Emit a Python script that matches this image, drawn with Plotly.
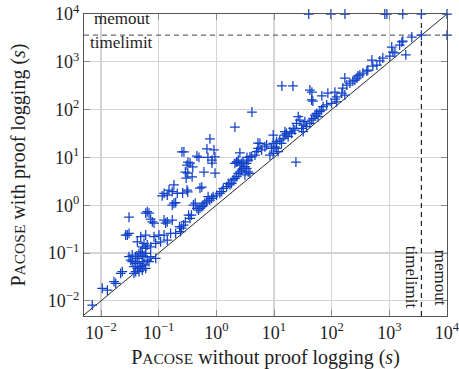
import math
import plotly.graph_objects as go

TIMELIMIT = 3600
MEMOUT = 10000
X_MIN = 0.00507
Y_MIN = 0.00481
AX_MAX = 10000

tick_vals = [0.01, 0.1, 1, 10, 100, 1000, 10000]
tick_text = ["10<sup>−2</sup>", "10<sup>−1</sup>", "10<sup>0</sup>", "10<sup>1</sup>",
             "10<sup>2</sup>", "10<sup>3</sup>", "10<sup>4</sup>"]

# runtime without proof logging (s)
without_log = [
    40, 97, 170, 835, 905, 1710, 3600, 10000, 10000, 3600,
    2450, 1710, 1650, 1510, 1930, 1100, 1150, 1250, 1020, 498, 771, 684, 607, 518, 424, 407, 347, 308,
    285, 274, 253, 233, 207, 169, 183, 156, 150, 169,
    13.7, 21.3, 41.9, 45.4, 47.2, 67.6, 85.9, 24, 123, 114, 114,
    4.14, 2.10, 0.774, 0.687, 0.909, 0.253, 0.274, 0.461, 0.499, 0.715, 0.839, 0.946, 0.322, 2.56,
    2.28, 3.39, 3.82, 5.26,
    0.84, 0.95, 0.61, 0.35, 0.31, 0.39, 0.32, 0.29, 0.31, 0.32, 0.56, 0.52, 0.26, 0.30, 0.38,
    7.45, 6.95, 5.7, 5.3, 6.1, 5.0, 4.67, 4.1, 3.57, 3.35, 3.13, 2.92, 2.74, 2.56, 2.4, 2.25, 2.1,
    1.96, 1.84, 1.72, 1.61, 2.1, 2.25, 2.4, 2.56, 2.74, 2.92, 3.35, 3.57, 3.82, 3.13, 1.51, 1.32,
    1.24, 1.15, 1.01, 0.88, 0.83, 0.77, 0.72, 0.68, 0.63, 0.59, 0.56, 0.52, 0.49, 0.46, 0.43, 0.40,
    0.37, 0.35, 0.33, 0.29, 0.27, 0.25, 0.23,
    44.9, 71, 82, 99.6, 122, 26.3, 28.1, 24.6, 32.1, 34.3, 36.7, 41.9, 44.9, 47.8, 51.2, 54.7, 58.3,
    62.4, 66.8, 21.5, 18.9, 16.5, 15.5, 17.6, 14.4, 12.6, 13.5, 11.1, 9.7, 10.4, 9.1, 11.1, 11.8,
    9.7, 8.5, 20.2, 23.0, 30.1, 32.1, 9.7, 15.5,
    0.184, 0.151, 0.172, 0.21, 0.124, 0.115, 0.141, 0.184, 0.172, 0.197, 0.0634, 0.068, 0.0595,
    0.0775, 0.083, 0.0727, 0.0306, 0.124, 0.141, 0.172, 0.132,
    0.0286, 0.0306, 0.0268, 0.0488, 0.0595, 0.0556, 0.052, 0.0634, 0.0887, 0.083, 0.101, 0.124,
    0.161, 0.197, 0.24, 0.108, 0.0727, 0.141, 0.0426, 0.0348, 0.0399, 0.0426, 0.0456, 0.0488,
    0.052, 0.0556, 0.0595, 0.0634, 0.052, 0.0456, 0.0399, 0.0373, 0.0426, 0.0488, 0.0556, 0.0348,
    0.0327, 0.0595, 0.052, 0.0456, 0.0399, 0.0373, 0.068, 0.0727, 0.0595, 0.0887, 0.0306, 0.0219,
    0.0234, 0.0168, 0.018, 0.0105, 0.0129, 0.00706,
]

# runtime with proof logging (s)
with_log = [
    10000, 10000, 10000, 10000, 10000, 10000, 10000, 10000, 3600, 3600,
    3300, 2720, 2600, 2240, 1390, 2040, 1600, 1530, 1320, 1090, 1200, 1040, 857, 817, 673, 642, 583, 530,
    505, 458, 416, 396, 360, 458, 327, 283, 222, 202,
    312, 312, 257, 233, 151, 193, 222, 8.0, 184, 233, 165,
    89, 43, 24.3, 15, 14.3, 13, 13, 10.7, 10, 10, 8.8, 10.2, 8.0, 12.4,
    8.0, 10, 10.2, 20,
    7.6, 4.7, 4.95, 7.6, 6.9, 6.3, 4.7, 4.95, 2.08, 1.89, 2.4, 2.29, 1.8, 3.7, 3.9,
    18.2, 16.7, 19.7, 15.5, 14.3, 13.2, 11.2, 10.3, 8.8, 7.5, 6.4, 5.9, 5.45, 5.0, 4.65, 3.95, 3.65,
    3.37, 2.87, 2.65, 2.87, 7.5, 8.1, 8.8, 6.9, 7.5, 8.1, 5.9, 5.0, 4.65, 4.3, 2.44, 2.26,
    1.92, 1.77, 1.63, 1.51, 1.39, 1.28, 1.51, 1.18, 1.10, 1.01, 0.93, 0.86, 0.79, 0.86, 1.10, 1.01,
    0.62, 0.53, 0.62, 0.45, 0.385, 0.33, 0.355,
    159, 115, 125, 135, 146, 71, 60.6, 51.7, 47.6, 55.8, 43.9, 51.7, 60.6, 65.8, 77.1, 83.7, 71,
    90.4, 98, 40.6, 34.5, 31.9, 29.4, 27.1, 25.1, 23.1, 19.7, 21.3, 19.7, 16.7, 15.5, 15.5, 13.2,
    12.2, 11.2, 31.9, 37.4, 40.6, 34.5, 29.4, 34.5,
    2.65, 2.08, 1.92, 1.77, 1.77, 1.56, 1.63, 1.10, 1.01, 1.13, 0.73, 0.68, 0.68,
    0.45, 0.42, 0.51, 0.56, 0.49, 0.45, 0.49, 0.42,
    0.238, 0.258, 0.238, 0.219, 0.238, 0.16, 0.135, 0.147, 0.16, 0.219, 0.238, 0.238,
    0.258, 0.258, 0.279, 0.172, 0.135, 0.187, 0.172, 0.0908, 0.0837, 0.0775, 0.0986, 0.106,
    0.0908, 0.0837, 0.0986, 0.0714, 0.0658, 0.061, 0.061, 0.0516, 0.0479, 0.0516, 0.0561, 0.0658,
    0.0714, 0.0479, 0.0441, 0.0406, 0.0406, 0.0376, 0.0658, 0.0837, 0.125, 0.0775, 0.0837, 0.0376,
    0.0406, 0.0251, 0.0232, 0.0183, 0.0168, 0.00817,
]

SERIF = "Liberation Serif"
BLUE = "#1242c8"
TXT = "#1e1e1e"

fig = go.Figure()

# diagonal y = x
fig.add_trace(go.Scatter(x=[X_MIN, AX_MAX], y=[X_MIN, AX_MAX], mode="lines",
                         line=dict(color="#2a2a2a", width=1), hoverinfo="skip", showlegend=False))
# timelimit (horizontal)
fig.add_trace(go.Scatter(x=[X_MIN, AX_MAX], y=[TIMELIMIT, TIMELIMIT], mode="lines",
                         line=dict(color="#6a6a6a", width=1.2, dash="5px,4px"),
                         hoverinfo="skip", showlegend=False))
# timelimit (vertical)
fig.add_trace(go.Scatter(x=[TIMELIMIT, TIMELIMIT], y=[Y_MIN, AX_MAX], mode="lines",
                         line=dict(color="#222222", width=1.2, dash="5px,4px"),
                         hoverinfo="skip", showlegend=False))
# runtimes
fig.add_trace(go.Scatter(x=without_log, y=with_log, mode="markers", cliponaxis=False,
                         marker=dict(symbol="cross-thin", size=7,
                                     line=dict(width=1.25, color=BLUE), color=BLUE),
                         showlegend=False))

axis_common = dict(
    type="log", tickvals=tick_vals, ticktext=tick_text,
    showgrid=True, gridcolor="#d4d4d4", gridwidth=1.3,
    showline=True, linecolor="#555555", linewidth=1.2, mirror="allticks",
    ticks="inside", ticklen=6, tickcolor="#8c8c8c", tickwidth=1,
    zeroline=False, automargin=False, ticklabeloverflow="allow",
    tickfont=dict(family=SERIF, size=18, color=TXT),
)

fig.update_layout(
    template="none",
    width=459, height=369,
    margin=dict(l=84, r=12, t=14, b=53),
    paper_bgcolor="white", plot_bgcolor="white",
    showlegend=False,
    xaxis=dict(axis_common, range=[math.log10(X_MIN), math.log10(AX_MAX)],
               title=dict(text="P<span style='font-size:15.5px'>ACOSE</span> without proof logging (<i>s</i>)",
                          font=dict(family=SERIF, size=20, color=TXT), standoff=10)),
    yaxis=dict(axis_common, range=[math.log10(Y_MIN), math.log10(AX_MAX)],
               title=dict(text="P<span style='font-size:15.5px'>ACOSE</span> with proof logging (<i>s</i>)",
                          font=dict(family=SERIF, size=20, color=TXT), standoff=16)),
    annotations=[
        dict(text="memout", xref="paper", yref="paper", x=0.022, y=0.985, xanchor="left",
             yanchor="middle", showarrow=False, font=dict(family=SERIF, size=17, color=TXT)),
        dict(text="timelimit", xref="paper", yref="paper", x=0.011, y=0.904, xanchor="left",
             yanchor="middle", showarrow=False, font=dict(family=SERIF, size=17, color=TXT)),
        dict(text="timelimit", xref="paper", yref="paper", x=0.903, y=0.127, xanchor="center",
             yanchor="middle", textangle=90, showarrow=False,
             font=dict(family=SERIF, size=17, color=TXT)),
        dict(text="memout", xref="paper", yref="paper", x=0.981, y=0.126, xanchor="center",
             yanchor="middle", textangle=90, showarrow=False,
             font=dict(family=SERIF, size=17, color=TXT)),
    ],
)

# remove the default page margin so the 459x369 figure fills the window exactly
fig.write_html("out.html",
               config={"displayModeBar": False, "staticPlot": True},
               post_script="document.body.style.margin='0';document.body.style.overflow='hidden';")
